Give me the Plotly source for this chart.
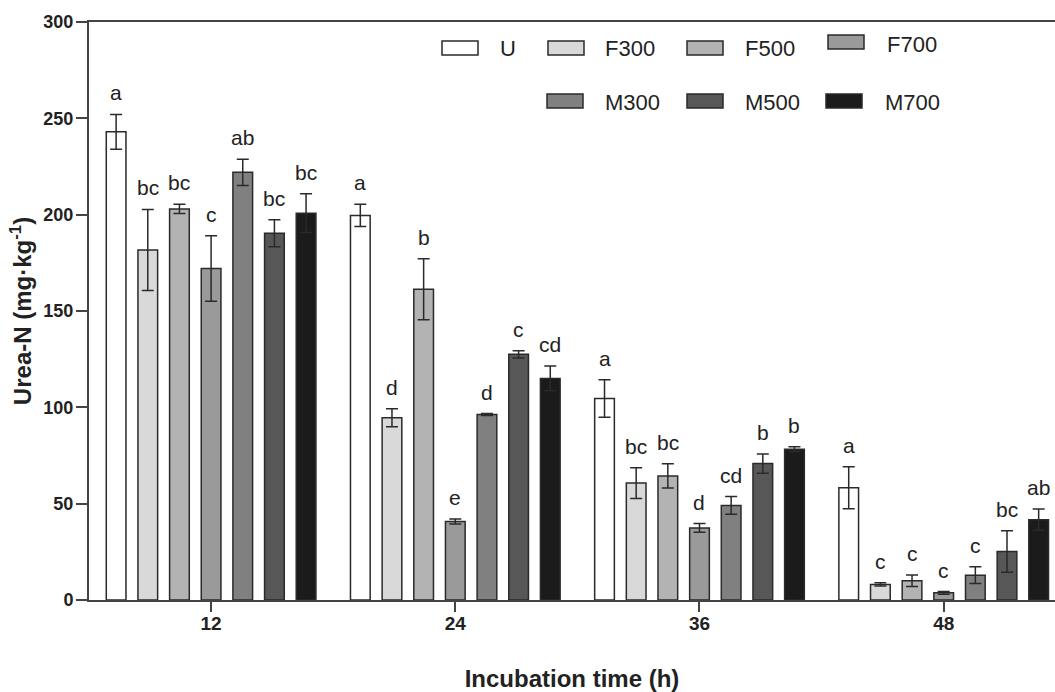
import plotly.graph_objects as go

# ---------------- data ----------------
times = [12, 24, 36, 48]
series = ["U", "F300", "F500", "F700", "M300", "M500", "M700"]
colors = ["#ffffff", "#d9d9d9", "#b3b3b3", "#9a9a9a", "#808080", "#575757", "#1b1b1b"]

U_mean = [243.0, 199.6, 104.6, 58.3]
U_err = [9.0, 5.8, 9.7, 10.9]
F300_mean = [181.7, 94.6, 60.7, 8.1]
F300_err = [21.0, 4.7, 8.0, 0.8]
F500_mean = [203.0, 161.3, 64.4, 10.0]
F500_err = [2.4, 15.8, 6.3, 3.0]
F700_mean = [172.0, 40.8, 37.4, 3.7]
F700_err = [17.0, 1.3, 2.3, 0.7]
M300_mean = [222.0, 96.3, 49.1, 12.9]
M300_err = [6.8, 0.5, 4.6, 4.3]
M500_mean = [190.4, 127.5, 70.8, 25.2]
M500_err = [7.0, 1.9, 5.0, 10.8]
M700_mean = [200.8, 115.0, 78.3, 41.7]
M700_err = [10.0, 6.4, 1.2, 5.5]

U_letters = ["a", "a", "a", "a"]
F300_letters = ["bc", "d", "bc", "c"]
F500_letters = ["bc", "b", "bc", "c"]
F700_letters = ["c", "e", "d", "c"]
M300_letters = ["ab", "d", "cd", "c"]
M500_letters = ["bc", "c", "b", "bc"]
M700_letters = ["bc", "cd", "b", "ab"]

y_ticks = [0, 50, 100, 150, 200, 250, 300]

means = [U_mean, F300_mean, F500_mean, F700_mean, M300_mean, M500_mean, M700_mean]
errs = [U_err, F300_err, F500_err, F700_err, M300_err, M500_err, M700_err]
letters = [U_letters, F300_letters, F500_letters, F700_letters,
           M300_letters, M500_letters, M700_letters]

# ---------------- layout constants ----------------
W, H = 1055, 692
ML, MR, MT, MB = 89, 0, 22, 92
BARGAP = 0.0925
BARGROUPGAP = 0.378
XRANGE = [6.0, 53.47]
FONT = "Liberation Sans, Arial, sans-serif"
INK = "#2a2a2a"

fig = go.Figure()
for name, col, m, e in zip(series, colors, means, errs):
    fig.add_trace(go.Bar(
        x=times, y=m, name=name, showlegend=False,
        marker=dict(color=col, line=dict(color=INK, width=1.5)),
        error_y=dict(type="data", array=e, visible=True, color=INK,
                     thickness=1.5, width=6),
    ))

# significance letters above the error bars
n = len(series)
slot = 12 * (1 - BARGAP) / n
annotations = []
for i in range(n):
    for j, t in enumerate(times):
        annotations.append(dict(
            x=t + (i - (n - 1) / 2) * slot, y=means[i][j] + errs[i][j],
            xref="x", yref="y", text=letters[i][j], showarrow=False,
            yanchor="bottom", yshift=8,
            font=dict(family=FONT, size=21, color="#222222"),
        ))

# manual legend (boxes + labels), positions in pixels
legend_pos = {  # name: (box_x0, box_y_center, text_x, text_y)
    "U": (442, 48, 498, 48),
    "F300": (548, 48, 603, 48),
    "F500": (687, 48, 743, 48),
    "F700": (828, 42, 885, 44),
    "M300": (547, 101, 603, 102),
    "M500": (687, 101, 743, 102),
    "M700": (826, 101, 883, 102),
}
PW = W - ML - MR
PH = H - MT - MB


def px_x(px):
    return (px - ML) / PW


def px_y(py):
    return (H - MB - py) / PH


shapes = []
for name, col in zip(series, colors):
    bx, by, tx, ty = legend_pos[name]
    shapes.append(dict(
        type="rect", xref="paper", yref="paper",
        x0=px_x(bx), x1=px_x(bx + 36), y0=px_y(by + 7), y1=px_y(by - 7),
        fillcolor=col, line=dict(color=INK, width=1.5),
    ))
    annotations.append(dict(
        x=px_x(tx), y=px_y(ty), xref="paper", yref="paper", text=name,
        showarrow=False, xanchor="left", yanchor="middle",
        font=dict(family=FONT, size=22, color="#222222"),
    ))

fig.update_layout(
    width=W, height=H,
    margin=dict(l=ML, r=MR, t=MT, b=MB),
    paper_bgcolor="white", plot_bgcolor="white",
    barmode="group", bargap=BARGAP, bargroupgap=BARGROUPGAP,
    font=dict(family=FONT, color="#222222"),
    annotations=annotations, shapes=shapes,
    xaxis=dict(
        range=XRANGE, tickmode="array", tickvals=times,
        ticktext=[str(t) for t in times],
        showline=True, linecolor="#444444", linewidth=2, mirror=True,
        ticks="outside", ticklen=10, tickwidth=1.5, tickcolor="#444444",
        showgrid=False, zeroline=False, ticklabelstandoff=-5,
        tickfont=dict(family=FONT, size=19, weight="bold", color="#222222"),
        title=dict(text="Incubation time (h)", standoff=40,
                   font=dict(family=FONT, size=24, weight="bold", color="#222222")),
    ),
    yaxis=dict(
        range=[0, 300], tickmode="array", tickvals=y_ticks,
        showline=True, linecolor="#444444", linewidth=2, mirror=False,
        ticks="outside", ticklen=11, tickwidth=1.5, tickcolor="#444444",
        showgrid=False, zeroline=False, ticklabelstandoff=-1,
        tickfont=dict(family=FONT, size=18, weight="bold", color="#222222"),
        title=dict(text="Urea-N (mg·kg<sup>-1</sup>)", standoff=5,
                   font=dict(family=FONT, size=24, weight="bold", color="#222222")),
    ),
)

fig.write_html("out.html")
